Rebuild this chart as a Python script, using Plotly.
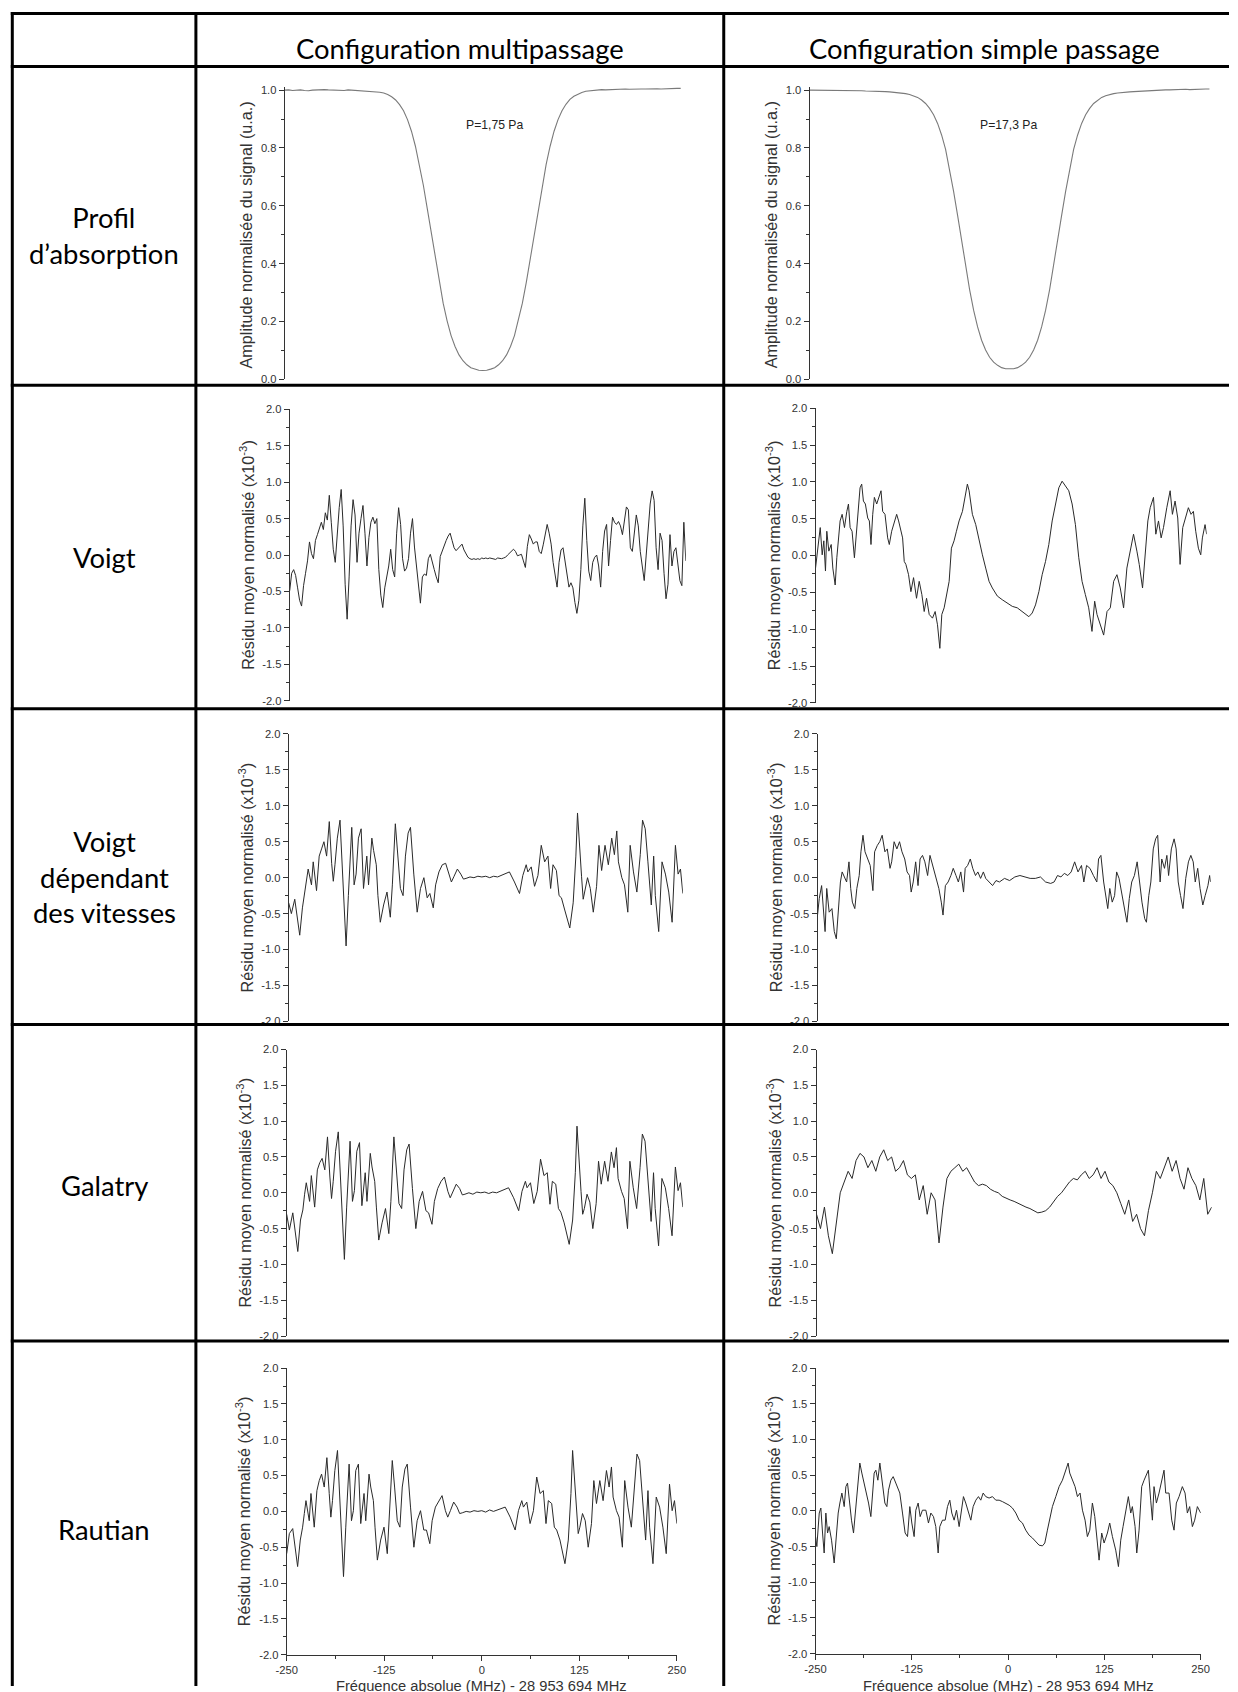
import plotly.graph_objects as go

# ---------------- data ----------------
FREQ = list(range(-250, 251, 5))                 # 5 MHz sampling
FREQ_FINE = [i * 2.5 for i in range(-100, 101)]   # 2.5 MHz sampling

ABS_MULTI = [
    1.000, 1.001, 0.999, 1.000, 1.001, 0.999, 0.998, 1.000, 1.001, 1.000,
    1.002, 1.001, 1.000, 1.001, 1.000, 0.999, 1.001, 1.000, 0.999, 0.999,
    0.998, 0.997, 0.996, 0.995, 0.993, 0.990, 0.985, 0.977, 0.966, 0.950,
    0.929, 0.898, 0.858, 0.806, 0.743, 0.671, 0.589, 0.504, 0.418, 0.336,
    0.263, 0.202, 0.151, 0.113, 0.084, 0.064, 0.050, 0.040, 0.035, 0.031,
    0.030, 0.031, 0.035, 0.040, 0.050, 0.064, 0.084, 0.113, 0.151, 0.202,
    0.263, 0.336, 0.418, 0.504, 0.589, 0.671, 0.743, 0.806, 0.858, 0.898,
    0.929, 0.951, 0.968, 0.979, 0.987, 0.992, 0.996, 0.998, 1.000, 1.001,
    1.002, 1.001, 1.002, 1.003, 1.002, 1.003, 1.004, 1.003, 1.004, 1.005,
    1.004, 1.004, 1.005, 1.006, 1.005, 1.004, 1.005, 1.006, 1.005, 1.006,
    1.006]
ABS_SIMPLE = [
    1.000, 1.000, 0.999, 1.000, 0.999, 0.999, 1.000, 0.999, 0.998, 0.999,
    0.999, 0.998, 0.998, 0.998, 0.997, 0.997, 0.996, 0.996, 0.995, 0.995,
    0.994, 0.993, 0.992, 0.990, 0.988, 0.985, 0.981, 0.975, 0.966, 0.954,
    0.937, 0.915, 0.885, 0.845, 0.795, 0.727, 0.650, 0.567, 0.478, 0.391,
    0.310, 0.239, 0.181, 0.135, 0.101, 0.076, 0.059, 0.048, 0.040, 0.036,
    0.035, 0.036, 0.040, 0.048, 0.059, 0.076, 0.101, 0.135, 0.181, 0.239,
    0.310, 0.391, 0.478, 0.567, 0.650, 0.727, 0.795, 0.845, 0.885, 0.915,
    0.937, 0.954, 0.966, 0.975, 0.981, 0.985, 0.988, 0.990, 0.992, 0.993,
    0.994, 0.995, 0.996, 0.997, 0.998, 0.998, 0.999, 1.000, 1.000, 1.001,
    1.001, 1.002, 1.001, 1.002, 1.003, 1.002, 1.003, 1.004, 1.003, 1.004,
    1.004]

# Voigt, multipass (2.5 MHz sampling)
VOIGT_MULTI = [
    -0.49, -0.25, -0.20, -0.28, -0.45, -0.62, -0.70, -0.42, -0.25, -0.08,
    0.18, 0.02, -0.05, 0.20, 0.28, 0.38, 0.45, 0.35, 0.58, 0.48,
    0.82, 0.45, 0.08, -0.10, 0.35, 0.65, 0.90, 0.40, -0.40, -0.88,
    -0.30, 0.40, 0.76, 0.55, -0.10, 0.30, 0.50, 0.68, 0.30, -0.15,
    0.24, 0.45, 0.52, 0.43, 0.50, -0.20, -0.55, -0.72, -0.45, -0.30,
    -0.15, 0.08, -0.20, -0.30, 0.30, 0.65, 0.42, -0.05, -0.22, -0.18,
    -0.05, 0.30, 0.50, 0.11, -0.12, -0.35, -0.66, -0.30, -0.26, -0.28,
    -0.05, 0.01, -0.12, -0.20, -0.30, -0.38, -0.02, 0.06, 0.12, 0.20,
    0.26, 0.30, 0.20, 0.10, 0.06, 0.09, 0.12, 0.15, 0.07, 0.02,
    -0.03, -0.05, -0.06, -0.05, -0.06, -0.05, -0.06, -0.04, -0.05, -0.04,
    -0.05, -0.04, -0.05, -0.05, -0.06, -0.04, -0.05, -0.05, -0.04, -0.03,
    0.00, 0.03, 0.06, 0.08, 0.05, -0.01, 0.00, 0.01, -0.08, -0.17,
    0.12, 0.28, 0.22, 0.15, 0.18, 0.18, 0.05, 0.02, 0.14, 0.30,
    0.42, 0.30, 0.15, -0.10, -0.30, -0.44, -0.10, 0.07, 0.10, -0.10,
    -0.30, -0.44, -0.38, -0.45, -0.65, -0.80, -0.62, -0.20, 0.40, 0.78,
    0.20, -0.22, -0.35, -0.10, -0.03, 0.00, -0.15, -0.44, 0.05, 0.33,
    0.42, -0.15, 0.20, 0.52, 0.45, 0.42, 0.46, 0.40, 0.28, 0.45,
    0.66, 0.62, 0.10, 0.05, 0.28, 0.55, 0.40, 0.05, -0.15, -0.35,
    0.00, 0.30, 0.70, 0.88, 0.75, 0.10, -0.20, 0.30, 0.20, -0.25,
    -0.60, -0.40, 0.28, -0.15, 0.05, 0.10, -0.15, -0.35, -0.42, 0.45,
    -0.08]

# Voigt, single pass (points picked along the trace)
VOIGT_SIMPLE_F = [
    -250, -247, -244, -241.5, -239.4, -237.3, -235.6, -233, -230, -227.9,
    -224.9, -222.8, -220.7, -218.6, -216, -213, -210, -207.9, -205.8, -203.3,
    -200.3, -198.2, -196, -193.1, -191, -188.8, -186.3, -183.3, -181.2, -179.1,
    -176.9, -174.8, -171.8, -169.3, -166.3, -164.2, -161.2, -157.8, -155.7, -152.7,
    -149.3, -146.3, -143.8, -140.8, -138.7, -136.6, -134.5, -131.1, -128.1, -124.7,
    -120.9, -117.5, -114.1, -111.1, -108.1, -104.7, -100.5, -97.1, -94.1, -91.1,
    -88.6, -85.6, -82.6, -79.2, -76.3, -72.9, -69.9, -66.5, -62.2, -58,
    -55.9, -53.7, -49.5, -45.2, -41, -36.7, -32.5, -28.2, -24, -17.6,
    -11.3, -4.9, 1.5, 7.9, 14.2, 18.5, 22.7, 27, 31.2, 35.5,
    39.7, 44, 48.2, 52.5, 56.7, 61, 65.2, 69.5, 73.7, 78,
    82.2, 86.5, 90.7, 94.9, 99.2, 103.4, 106.8, 109.8, 114.1, 118.3,
    122.6, 126.8, 131.1, 135.3, 139.5, 143.8, 148, 152.3, 156.5, 160.8,
    163.8, 168, 170.6, 174.8, 177.8, 182, 185, 188.4, 191.8, 194.8,
    199, 203.3, 206.2, 209.6, 213, 216, 219.4, 222.4, 226.6, 230,
    233, 236, 239.4, 242.4, 244.5, 247.9, 250]
VOIGT_SIMPLE = [
    -0.17, 0.10, 0.38, 0.01, 0.20, -0.21, 0.33, 0.06, 0.15, -0.17,
    -0.40, -0.03, 0.24, 0.47, 0.56, 0.38, 0.60, 0.70, 0.38, 0.33,
    -0.03, 0.24, 0.56, 0.92, 0.97, 0.74, 0.70, 0.51, 0.47, 0.15,
    0.56, 0.79, 0.70, 0.79, 0.88, 0.60, 0.56, 0.24, 0.15, 0.33,
    0.47, 0.56, 0.47, 0.33, 0.24, -0.08, -0.12, -0.26, -0.49, -0.30,
    -0.58, -0.35, -0.53, -0.76, -0.58, -0.80, -0.85, -0.76, -0.94, -1.26,
    -0.80, -0.71, -0.53, -0.35, 0.10, 0.20, 0.33, 0.47, 0.60, 0.83,
    0.97, 0.88, 0.56, 0.42, 0.20, 0.01, -0.17, -0.35, -0.44, -0.55,
    -0.60, -0.65, -0.69, -0.71, -0.76, -0.80, -0.83, -0.78, -0.67, -0.49,
    -0.26, -0.08, 0.15, 0.47, 0.70, 0.92, 1.01, 0.95, 0.88, 0.70,
    0.42, -0.03, -0.35, -0.53, -0.71, -1.03, -0.62, -0.80, -0.94, -1.08,
    -0.76, -0.71, -0.35, -0.26, -0.44, -0.71, -0.17, 0.06, 0.29, 0.06,
    -0.12, -0.44, -0.08, 0.47, 0.65, 0.79, 0.29, 0.47, 0.24, 0.38,
    0.65, 0.88, 0.56, 0.74, 0.51, -0.12, 0.38, 0.51, 0.65, 0.56,
    0.60, 0.33, 0.10, 0.01, 0.24, 0.42, 0.29]

# sampling points shared by the three multipass traces of rows 3-5
MULTI_F = [
    -250, -246.6, -242.3, -239.4, -236, -232.6, -229.6, -227.4, -225.3, -221.1,
    -218.9, -214.7, -211.3, -208.3, -205.3, -201.9, -198.5, -195.5, -193.4, -191.3,
    -188.3, -184.9, -180.6, -177.2, -174.3, -170, -167, -164.5, -161.5, -158.1,
    -155.1, -150.9, -148.7, -144.5, -142.3, -138.9, -136.8, -133.8, -129.6, -125.3,
    -121.1, -118.5, -114.7, -111.7, -108.3, -104.9, -101.9, -98.5, -95.5, -91.3,
    -87, -82.8, -78.5, -74.3, -70.9, -66.6, -63.6, -59.4, -55.1, -50.9,
    -46.6, -43.6, -40.2, -36, -31.7, -28.3, -25, -20, -15, -10,
    -5, 0, 5, 10, 15, 20, 25, 30, 36.4, 42.8,
    47, 51.3, 53.4, 57.7, 61.9, 66.2, 70.4, 74.7, 78.9, 82.3,
    85.3, 89.6, 93, 96, 100.2, 106.6, 110.9, 114.3, 116.4, 119.4,
    121.5, 123.6, 125.7, 129.1, 132.6, 136.4, 140.6, 143.6, 147, 151.3,
    155.5, 159.8, 163.2, 166.2, 168.3, 172.6, 176, 180.2, 183.2, 187.4,
    191.7, 196, 198.9, 202.3, 205.7, 210, 213, 215.1, 219.4, 223.6,
    227.9, 232.1, 236.4, 240.6, 244, 247, 250]

# Speed-dependent Voigt, multipass
VDV_MULTI = [
    -0.35, -0.50, -0.30, -0.55, -0.80, -0.42, -0.20, 0.00, 0.12, -0.10,
    0.22, -0.18, 0.30, 0.40, 0.50, 0.30, 0.78, 0.20, -0.05, 0.18,
    0.55, 0.80, -0.15, -0.95, -0.25, 0.70, -0.10, 0.05, 0.55, 0.68,
    -0.15, 0.30, -0.10, 0.55, 0.38, 0.18, -0.25, -0.62, -0.38, -0.20,
    -0.55, -0.10, 0.75, 0.30, -0.15, -0.25, 0.30, 0.62, 0.70, 0.05,
    -0.48, -0.15, 0.00, -0.28, -0.22, -0.42, -0.10, 0.08, 0.18, 0.20,
    0.03, -0.06, 0.02, 0.12, 0.05, -0.02, -0.01, 0.01, 0.00, 0.02,
    0.01, 0.02, 0.00, 0.02, 0.01, 0.03, 0.05, 0.08, -0.06, -0.22,
    0.03, 0.18, 0.08, 0.15, -0.12, 0.03, 0.45, 0.22, 0.30, -0.15,
    0.18, 0.10, -0.25, -0.28, -0.45, -0.70, -0.35, 0.30, 0.90, 0.30,
    0.02, -0.30, -0.20, 0.00, -0.15, -0.48, -0.12, 0.45, 0.10, 0.45,
    0.18, 0.55, 0.32, 0.65, 0.22, 0.00, -0.10, -0.48, 0.45, 0.08,
    -0.20, 0.32, 0.80, 0.68, 0.22, -0.38, 0.30, -0.25, -0.75, 0.22,
    0.05, -0.20, -0.62, 0.45, 0.05, 0.12, -0.22]

# Speed-dependent Voigt, single pass
VDV_SIMPLE_F = [
    -250, -247.8, -244.8, -242.6, -240.4, -238.3, -235.2, -231.7, -228.7, -226.1,
    -223, -220.9, -218.7, -216.5, -213, -210, -207.8, -205.7, -202.6, -200,
    -197, -194.8, -192.2, -189.6, -186.1, -183, -179.6, -177.4, -173.9, -170.9,
    -167.8, -164.3, -161.3, -157.8, -155.7, -152.6, -149.1, -145.7, -142.6, -139.1,
    -136.1, -133, -130.9, -128.3, -125.2, -122.2, -119.6, -116.5, -113.5, -110,
    -107, -103.5, -101.3, -99.1, -95.7, -92.6, -90.4, -87.4, -83.9, -80.4,
    -77.4, -73.9, -70.9, -67.8, -64.3, -62.2, -59.1, -55.7, -52.6, -49.1,
    -46.1, -42.6, -39.1, -36.1, -31.7, -27.4, -23, -18.7, -12.2, -5.7,
    0.9, 7.4, 13.9, 20.4, 27, 33.5, 40, 46.5, 50.9, 55.2,
    59.6, 63.9, 68.3, 72.6, 77, 81.3, 85.7, 88.7, 92.2, 96.5,
    100.9, 105.2, 107.4, 110.4, 113.9, 116.1, 119.1, 121.7, 124.8, 127.8,
    130.4, 133.5, 136.5, 140, 143.5, 146.5, 149.6, 153, 156.5, 159.6,
    162.6, 166.1, 168.3, 171.3, 173.9, 177, 180, 182.6, 185.7, 187.8,
    191.3, 194.3, 196.5, 200, 203.5, 206.1, 208.7, 211.7, 214.8, 218.3,
    221.7, 224.8, 227.8, 230.4, 233.5, 236.5, 240, 243, 246.5, 248.7,
    250]
VDV_SIMPLE = [
    -0.52, -0.29, -0.11, -0.43, -0.75, -0.15, -0.48, -0.43, -0.75, -0.85,
    -0.34, -0.06, 0.08, 0.03, -0.06, 0.22, -0.15, -0.34, -0.43, -0.15,
    0.03, 0.36, 0.59, 0.36, 0.26, 0.17, -0.18, 0.36, 0.45, 0.50,
    0.59, 0.36, 0.40, 0.13, 0.22, 0.50, 0.40, 0.50, 0.36, 0.26,
    0.08, 0.03, -0.20, -0.06, 0.22, -0.11, 0.26, 0.31, 0.22, 0.03,
    0.31, 0.17, 0.08, -0.01, -0.15, -0.34, -0.52, -0.11, -0.06, 0.03,
    0.13, 0.03, -0.06, 0.08, -0.20, 0.13, 0.17, 0.26, 0.13, 0.03,
    0.08, -0.01, 0.08, -0.01, -0.06, -0.11, -0.04, -0.06, -0.01, -0.04,
    0.01, 0.03, 0.01, -0.01, -0.01, 0.01, -0.06, -0.08, -0.06, 0.03,
    0.01, 0.06, 0.03, 0.08, 0.22, 0.08, 0.17, -0.06, 0.17, 0.13,
    0.03, -0.06, 0.26, 0.31, -0.06, -0.25, -0.43, -0.15, -0.34, -0.25,
    0.08, -0.01, -0.20, -0.43, -0.62, -0.29, -0.06, 0.03, 0.22, -0.06,
    -0.34, -0.57, -0.62, -0.25, -0.06, 0.40, 0.54, 0.59, -0.06, 0.26,
    0.13, 0.31, 0.03, 0.40, 0.54, 0.40, -0.06, -0.25, -0.43, -0.01,
    0.22, 0.31, 0.22, -0.06, 0.13, -0.15, -0.38, -0.25, -0.11, 0.03,
    -0.06]

# Galatry, multipass
GALATRY_MULTI = [
    -0.30, -0.52, -0.28, -0.52, -0.82, -0.38, -0.24, -0.02, 0.14, -0.12,
    0.24, -0.20, 0.32, 0.42, 0.48, 0.32, 0.78, 0.22, -0.08, 0.16,
    0.58, 0.85, -0.12, -0.93, -0.20, 0.72, -0.12, 0.03, 0.58, 0.70,
    -0.18, 0.28, -0.12, 0.55, 0.36, 0.16, -0.20, -0.66, -0.42, -0.22,
    -0.57, -0.12, 0.78, 0.32, -0.15, -0.22, 0.32, 0.60, 0.68, 0.06,
    -0.50, -0.12, 0.02, -0.25, -0.28, -0.44, -0.12, 0.06, 0.16, 0.22,
    0.02, -0.07, 0.01, 0.12, 0.06, -0.03, -0.02, 0.00, -0.02, 0.01,
    0.00, 0.01, -0.01, 0.01, 0.00, 0.02, 0.04, 0.07, -0.07, -0.25,
    0.02, 0.16, 0.07, 0.14, -0.15, 0.02, 0.47, 0.24, 0.28, -0.16,
    0.16, 0.12, -0.22, -0.27, -0.42, -0.72, -0.38, 0.28, 0.93, 0.32,
    0.02, -0.30, -0.22, -0.02, -0.13, -0.50, -0.15, 0.44, 0.12, 0.44,
    0.16, 0.57, 0.35, 0.63, 0.20, 0.02, -0.08, -0.50, 0.44, 0.07,
    -0.22, 0.35, 0.82, 0.72, 0.24, -0.40, 0.28, -0.22, -0.74, 0.20,
    0.07, -0.22, -0.60, 0.36, 0.03, 0.14, -0.20]
# Galatry, single pass (5 MHz sampling)
GALATRY_SIMPLE = [
    -0.30, -0.50, -0.20, -0.60, -0.85, -0.40, 0.00, 0.15, 0.30, 0.20,
    0.45, 0.55, 0.50, 0.35, 0.45, 0.30, 0.50, 0.60, 0.45, 0.50,
    0.30, 0.35, 0.45, 0.25, 0.20, 0.25, -0.10, 0.10, -0.30, 0.00,
    -0.10, -0.70, -0.20, 0.20, 0.30, 0.35, 0.40, 0.30, 0.35, 0.25,
    0.15, 0.10, 0.12, 0.10, 0.05, 0.02, 0.00, -0.05, -0.08, -0.10,
    -0.12, -0.15, -0.18, -0.20, -0.22, -0.25, -0.28, -0.27, -0.25, -0.20,
    -0.12, -0.05, 0.00, 0.08, 0.15, 0.20, 0.18, 0.25, 0.30, 0.20,
    0.25, 0.35, 0.20, 0.30, 0.15, 0.10, 0.00, -0.15, -0.30, -0.10,
    -0.40, -0.30, -0.50, -0.60, -0.25, 0.00, 0.30, 0.20, 0.35, 0.50,
    0.30, 0.45, 0.20, 0.05, 0.35, 0.20, 0.10, -0.10, 0.20, -0.30,
    -0.20]

# Rautian, multipass
RAUTIAN_MULTI = [
    -0.59, -0.31, -0.24, -0.50, -0.77, -0.40, -0.22, -0.03, 0.15, -0.13,
    0.25, -0.22, 0.29, 0.43, 0.52, 0.34, 0.75, 0.25, -0.08, 0.15,
    0.57, 0.85, -0.13, -0.91, -0.22, 0.66, -0.13, 0.01, 0.57, 0.66,
    -0.17, 0.25, -0.13, 0.52, 0.34, 0.15, -0.22, -0.68, -0.40, -0.22,
    -0.59, -0.13, 0.71, 0.34, -0.13, -0.22, 0.34, 0.59, 0.66, 0.06,
    -0.50, -0.13, 0.01, -0.26, -0.26, -0.45, -0.13, 0.06, 0.15, 0.22,
    0.01, -0.08, 0.01, 0.13, 0.06, -0.03, -0.02, 0.00, -0.01, 0.01,
    0.00, 0.01, -0.01, 0.02, 0.00, 0.02, 0.03, 0.06, -0.08, -0.26,
    0.01, 0.15, 0.06, 0.13, -0.17, 0.01, 0.48, 0.25, 0.29, -0.17,
    0.15, 0.11, -0.22, -0.26, -0.40, -0.73, -0.40, 0.25, 0.85, 0.34,
    0.01, -0.31, -0.22, -0.03, -0.13, -0.50, -0.17, 0.43, 0.11, 0.43,
    0.15, 0.57, 0.34, 0.62, 0.20, 0.01, -0.08, -0.50, 0.43, 0.06,
    -0.22, 0.34, 0.80, 0.71, 0.25, -0.40, 0.29, -0.22, -0.73, 0.20,
    0.06, -0.22, -0.59, 0.38, 0.01, 0.15, -0.17]

# Rautian, single pass
RAUTIAN_SIMPLE_F = [
    -250, -248.3, -245.2, -243.1, -240.9, -238.8, -236.6, -234.4, -232.3, -229.2,
    -225.8, -223.6, -220.6, -218.4, -215.8, -212.8, -210.6, -208.5, -206.3, -203.3,
    -200.7, -197.7, -195.5, -192.5, -189.9, -186.9, -183.8, -181.2, -178.2, -176,
    -173.9, -171.7, -169.1, -166.5, -163.1, -160, -157.4, -155.3, -152.2, -149.2,
    -145.8, -143.6, -140.6, -137.1, -133.7, -130.6, -127.6, -125, -122, -119.8,
    -116.8, -114.2, -111.2, -106.8, -103.4, -100.3, -96.9, -93.9, -90.8, -88.7,
    -85.2, -81.7, -78.7, -75.7, -73.1, -70.1, -67, -63.6, -60.6, -58,
    -55, -51.5, -48.4, -45.4, -41.9, -38.5, -35.5, -32.4, -29, -24.7,
    -20.3, -16, -11.7, -7.4, -3, 1.3, 5.6, 10, 14.3, 18.6,
    22.9, 27.2, 31.6, 35.9, 40.2, 44.6, 47.6, 51, 54.5, 57.5,
    61.9, 66.2, 70.5, 74.8, 77.9, 80, 83.5, 86.9, 90, 93.4,
    96.5, 99.9, 102.9, 106, 109.4, 112.5, 115.9, 118.1, 121.5, 124.6,
    128.9, 131.9, 135.4, 139.7, 143.2, 146.2, 149.2, 152.7, 156.1, 159.2,
    161.3, 164.8, 167, 170, 173.4, 176.5, 179.9, 182.1, 185.1, 187.3,
    189.4, 192.5, 195.9, 199.4, 202.4, 204.6, 208.9, 212.4, 215.4, 218.4,
    221.9, 226.2, 229.7, 232.7, 235.7, 239.2, 242.2, 245.7, 247.8, 250]
RAUTIAN_SIMPLE = [
    -0.36, -0.50, -0.03, 0.04, -0.31, -0.59, -0.03, -0.31, -0.22, -0.41,
    -0.73, -0.41, -0.03, 0.11, 0.25, 0.06, 0.34, 0.39, 0.15, -0.13,
    -0.31, 0.06, 0.25, 0.67, 0.53, 0.39, 0.25, 0.11, -0.08, 0.25,
    0.53, 0.57, 0.43, 0.67, 0.34, 0.11, 0.06, 0.29, 0.43, 0.48,
    0.39, 0.34, 0.25, -0.03, -0.31, -0.36, 0.06, -0.17, -0.36, 0.01,
    0.11, -0.08, 0.01, 0.01, -0.17, -0.03, -0.08, -0.22, -0.59, -0.22,
    -0.13, -0.13, 0.06, 0.15, -0.03, -0.13, 0.01, -0.22, 0.01, 0.20,
    0.11, -0.03, -0.13, 0.06, 0.15, 0.20, 0.15, 0.25, 0.20, 0.18,
    0.20, 0.15, 0.15, 0.13, 0.11, 0.08, 0.04, -0.03, -0.13, -0.17,
    -0.27, -0.34, -0.38, -0.43, -0.48, -0.49, -0.45, -0.27, -0.08, 0.06,
    0.20, 0.34, 0.43, 0.57, 0.67, 0.53, 0.43, 0.34, 0.20, 0.25,
    0.01, -0.13, -0.36, -0.27, 0.11, -0.08, -0.45, -0.69, -0.31, -0.45,
    -0.31, -0.17, -0.36, -0.55, -0.78, -0.41, -0.22, 0.01, 0.20, -0.03,
    0.06, -0.22, -0.59, -0.27, 0.34, 0.43, 0.53, 0.57, 0.15, -0.13,
    0.34, 0.11, 0.25, 0.43, 0.57, 0.25, 0.25, -0.13, -0.27, 0.11,
    0.20, 0.34, 0.25, -0.03, 0.06, -0.22, -0.13, 0.06, 0.01, -0.03]

COL_TITLES = ["Configuration multipassage", "Configuration simple passage"]
ROW_LABELS = ["Profil<br>d’absorption", "Voigt", "Voigt<br>dépendant<br>des vitesses",
              "Galatry", "Rautian"]
PRESSURES = ["P=1,75 Pa", "P=17,3 Pa"]
ABS_TICKS = [0.0, 0.2, 0.4, 0.6, 0.8, 1.0]
ABS_MINOR = [0.1, 0.3, 0.5, 0.7, 0.9]
RES_TICKS = [-2.0, -1.5, -1.0, -0.5, 0.0, 0.5, 1.0, 1.5, 2.0]
RES_MINOR = [-1.75, -1.25, -0.75, -0.25, 0.25, 0.75, 1.25, 1.75]
FREQ_TICKS = [-250, -125, 0, 125, 250]
FREQ_MINOR = [-187.5, -62.5, 62.5, 187.5]
ABS_TITLE = "Amplitude normalisée du signal (u.a.)"
RES_TITLE = "Résidu moyen normalisé (x10<sup>-3</sup>)"
X_TITLE = "Fréquence absolue (MHz) - 28 953 694 MHz"

SERIES = [
    [(FREQ, ABS_MULTI), (FREQ, ABS_SIMPLE)],
    [(FREQ_FINE, VOIGT_MULTI), (VOIGT_SIMPLE_F, VOIGT_SIMPLE)],
    [(MULTI_F, VDV_MULTI), (VDV_SIMPLE_F, VDV_SIMPLE)],
    [(MULTI_F, GALATRY_MULTI), (FREQ, GALATRY_SIMPLE)],
    [(MULTI_F, RAUTIAN_MULTI), (RAUTIAN_SIMPLE_F, RAUTIAN_SIMPLE)],
]

# ---------------- layout geometry ----------------
# Target positions are given in picture pixels; the rendered page is seen with a
# small offset and scale, which these constants undo.
W, H = 1238, 1692
OX, SX = 9.7, 0.986
OY, SY = 6.5, 0.991
def px(x):
    return ((x - OX) / SX) / W
def py(y):
    return 1 - ((y - OY) / SY) / H
def fs(size):
    return round(size / SX, 1)

# (x_left, x_right, y of top value, y of bottom value)
BOX = {
    (0, 0): (284, 681, 90.5, 379), (0, 1): (810, 1211, 90.5, 379),
    (1, 0): (289, 686, 409, 700), (1, 1): (816, 1208, 408, 702),
    (2, 0): (288, 683, 733, 1020), (2, 1): (818, 1212, 733, 1020),
    (3, 0): (286, 683, 1048, 1334), (3, 1): (817, 1213, 1048, 1334),
    (4, 0): (286, 677, 1366, 1652), (4, 1): (816, 1202, 1366, 1651),
}
ROW_LINES = [14, 67, 385, 708, 1023, 1339]
COL_LINES = [11, 195, 724]
ROW_LABEL_Y = [236, 557, 876, 1184, 1527]
HEADER_X = [460, 985]
HEADER_Y = 49

AXIS_COLOR = "#333333"
TICK_FONT = dict(family="Liberation Sans, Arial", size=fs(11), color="#333333")
TITLE_FONT = dict(family="Liberation Sans, Arial", size=fs(16), color="#333333")
XTITLE_FONT = dict(family="Liberation Sans, Arial", size=fs(14.5), color="#333333")
TABLE_FONT = dict(family="Lato, Carlito, sans-serif", size=fs(27), color="black")

fig = go.Figure()
layout = dict(
    width=W, height=H, margin=dict(l=0, r=0, t=0, b=0),
    paper_bgcolor="white", plot_bgcolor="rgba(0,0,0,0)",
    showlegend=False, hovermode=False,
)
annotations = []
shapes = []

idx = 0
for r in range(5):
    for c in range(2):
        idx += 1
        xl, xr, yt, yb = BOX[(r, c)]
        xa = "x" if idx == 1 else f"x{idx}"
        ya = "y" if idx == 1 else f"y{idx}"
        xkey = "xaxis" if idx == 1 else f"xaxis{idx}"
        ykey = "yaxis" if idx == 1 else f"yaxis{idx}"
        xvals, yvals = SERIES[r][c]
        if r == 0:
            top_val = 1.012
            dom_top = yb - (yb - yt) * top_val
            yrange = [0.0, top_val]
            ticks, minor = ABS_TICKS, ABS_MINOR
            ytitle, tdx = ABS_TITLE, 39
            color, width = "#7a7a7a", 1.1
        else:
            dom_top = yt
            yrange = [-2.0, 2.0]
            ticks, minor = RES_TICKS, RES_MINOR
            ytitle, tdx = RES_TITLE, 43
            color, width = "#2a2a2a", 1.0

        fig.add_trace(go.Scatter(x=xvals, y=yvals, mode="lines", xaxis=xa, yaxis=ya,
                                 line=dict(color=color, width=width)))

        xaxis = dict(domain=[px(xl), px(xr)], anchor=ya, range=[-250, 250],
                     showgrid=False, zeroline=False, fixedrange=True)
        if r == 4:
            xaxis.update(showline=True, linecolor=AXIS_COLOR, linewidth=1,
                         ticks="outside", ticklen=5, tickcolor=AXIS_COLOR,
                         tickmode="array", tickvals=FREQ_TICKS,
                         ticktext=[str(v) for v in FREQ_TICKS], tickfont=TICK_FONT,
                         minor=dict(tickvals=FREQ_MINOR, ticks="outside", ticklen=3,
                                    tickcolor=AXIS_COLOR, showgrid=False))
        else:
            xaxis.update(visible=False)
        layout[xkey] = xaxis

        layout[ykey] = dict(
            domain=[py(yb), py(dom_top)], anchor=xa, range=yrange,
            showgrid=False, zeroline=False, fixedrange=True,
            showline=True, linecolor=AXIS_COLOR, linewidth=1,
            ticks="outside", ticklen=5, tickcolor=AXIS_COLOR,
            tickmode="array", tickvals=ticks,
            ticktext=[f"{v:.1f}" for v in ticks], tickfont=TICK_FONT,
            minor=dict(tickvals=minor, ticks="outside", ticklen=3,
                       tickcolor=AXIS_COLOR, showgrid=False),
        )
        annotations.append(dict(
            text=ytitle, textangle=-90, xref="paper", yref="paper",
            x=px(xl - tdx), y=py((yt + yb) / 2), xanchor="center", yanchor="middle",
            showarrow=False, font=TITLE_FONT))
        if r == 4:
            annotations.append(dict(
                text=X_TITLE, xref="paper", yref="paper",
                x=px((xl + xr) / 2), y=py(1673), xanchor="center", yanchor="top",
                showarrow=False, font=XTITLE_FONT))
        if r == 0:
            annotations.append(dict(
                text=PRESSURES[c], xref="paper", yref="paper",
                x=px(494 if c == 0 else 1009), y=py(125),
                xanchor="center", yanchor="middle", showarrow=False,
                font=dict(family="Liberation Sans, Arial", size=fs(12), color="#222222")))

for c, t in enumerate(COL_TITLES):
    annotations.append(dict(text=t, xref="paper", yref="paper", x=px(HEADER_X[c]),
                            y=py(HEADER_Y), xanchor="center", yanchor="middle",
                            showarrow=False, font=TABLE_FONT))
for r, t in enumerate(ROW_LABELS):
    annotations.append(dict(text=t, xref="paper", yref="paper", x=px(103),
                            y=py(ROW_LABEL_Y[r]), xanchor="center", yanchor="middle",
                            align="center", showarrow=False, font=TABLE_FONT))

for y in ROW_LINES:
    shapes.append(dict(type="line", xref="paper", yref="paper", x0=px(COL_LINES[0] - 1.5),
                       x1=1.0, y0=py(y), y1=py(y), line=dict(color="black", width=3),
                       layer="above"))
for x in COL_LINES:
    shapes.append(dict(type="line", xref="paper", yref="paper", x0=px(x), x1=px(x),
                       y0=py(ROW_LINES[0] - 1.5), y1=0.0, line=dict(color="black", width=3),
                       layer="above"))

layout["annotations"] = annotations
layout["shapes"] = shapes
fig.update_layout(**layout)
fig.write_html(
    "out.html",
    config={"displayModeBar": False, "staticPlot": True},
    post_script="document.body.style.margin='0px';document.documentElement.style.margin='0px';",
)
